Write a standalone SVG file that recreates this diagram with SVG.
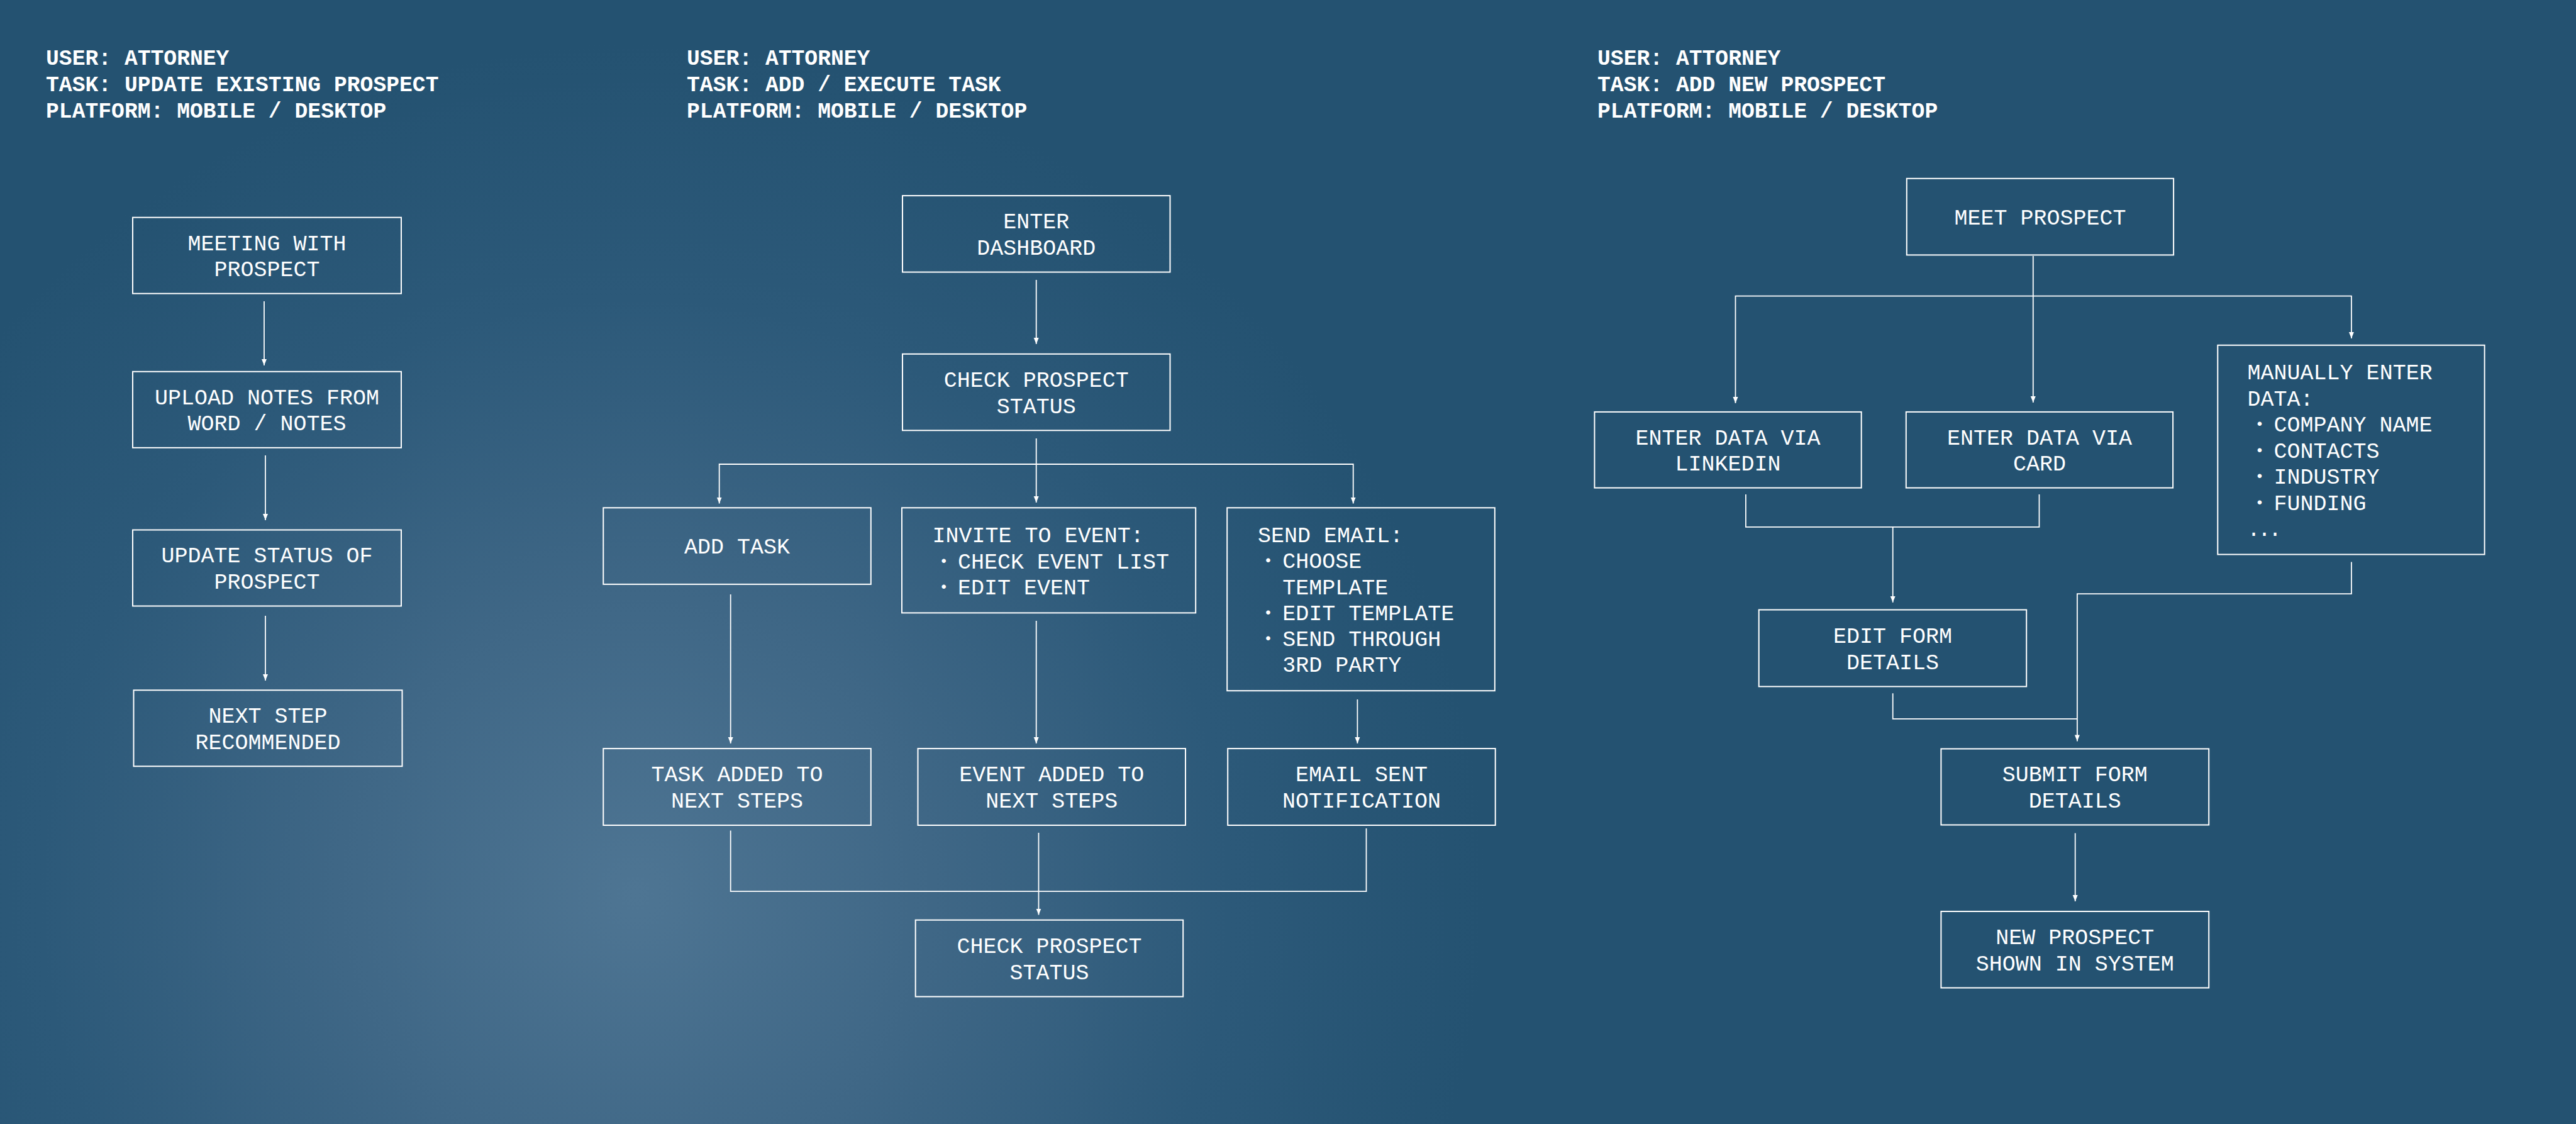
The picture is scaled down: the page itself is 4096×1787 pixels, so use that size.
<svg xmlns="http://www.w3.org/2000/svg" width="4096" height="1787" viewBox="0 0 4096 1787">
  <defs>
    <radialGradient id="glow" gradientUnits="userSpaceOnUse" cx="1010" cy="1420" r="1350">
      <stop offset="0" stop-color="#4e7593"/>
      <stop offset="0.35" stop-color="#3f6786"/>
      <stop offset="0.7" stop-color="#2c5979"/>
      <stop offset="1" stop-color="#245271"/>
    </radialGradient>
    <marker id="arrow" markerUnits="userSpaceOnUse" markerWidth="10" markerHeight="10" viewBox="0 0 10 10" refX="10" refY="5" orient="auto">
      <path d="M0,1 L10,5 L0,9 z" fill="#ffffff"/>
    </marker>
    <style>
      .hdr { font-family: "Liberation Mono", "DejaVu Sans Mono", monospace; font-weight: bold; font-size: 34.7px; fill: #ffffff; }
      .box { fill: none; stroke: #ffffff; stroke-width: 2; }
      .t { font-family: "Liberation Mono", "DejaVu Sans Mono", monospace; font-size: 35px; fill: #ffffff; }
      .b { font-family: "Liberation Mono", "DejaVu Sans Mono", monospace; font-size: 24px; fill: #ffffff; }
      .c { text-anchor: middle; }
      .ln { fill: none; stroke: #ffffff; stroke-width: 1.8; }
      .ar { fill: none; stroke: #ffffff; stroke-width: 1.8; marker-end: url(#arrow); }
    </style>
  </defs>

  <rect x="0" y="0" width="4096" height="1787" fill="url(#glow)"/>

  <g id="headers">
    <text class="hdr" x="73" y="103"><tspan x="73" y="103">USER: ATTORNEY</tspan><tspan x="73" y="145">TASK: UPDATE EXISTING PROSPECT</tspan><tspan x="73" y="186.5">PLATFORM: MOBILE / DESKTOP</tspan></text>
    <text class="hdr" x="1092" y="103"><tspan x="1092" y="103">USER: ATTORNEY</tspan><tspan x="1092" y="145">TASK: ADD / EXECUTE TASK</tspan><tspan x="1092" y="186.5">PLATFORM: MOBILE / DESKTOP</tspan></text>
    <text class="hdr" x="2540" y="103"><tspan x="2540" y="103">USER: ATTORNEY</tspan><tspan x="2540" y="145">TASK: ADD NEW PROSPECT</tspan><tspan x="2540" y="186.5">PLATFORM: MOBILE / DESKTOP</tspan></text>
  </g>

  <g id="connectors">
    <!-- column 1 -->
    <line class="ar" x1="420" y1="479" x2="420" y2="581"/>
    <line class="ar" x1="422" y1="724" x2="422" y2="827"/>
    <line class="ar" x1="422" y1="979" x2="422" y2="1082"/>
    <!-- column 2 -->
    <line class="ar" x1="1647.7" y1="445" x2="1647.7" y2="547"/>
    <line class="ar" x1="1647.7" y1="697" x2="1647.7" y2="799"/>
    <polyline class="ar" points="1647.7,738 1143.7,738 1143.7,800.5"/>
    <polyline class="ar" points="1647.7,738 2151.7,738 2151.7,800.5"/>
    <line class="ar" x1="1161.7" y1="945" x2="1161.7" y2="1182"/>
    <line class="ar" x1="1647.7" y1="987" x2="1647.7" y2="1182"/>
    <line class="ar" x1="2158.4" y1="1112" x2="2158.4" y2="1182"/>
    <polyline class="ln" points="1161.7,1320.6 1161.7,1417.1 2172.5,1417.1 2172.5,1317"/>
    <line class="ar" x1="1651.5" y1="1324" x2="1651.5" y2="1454.5"/>
    <!-- column 3 -->
    <line class="ar" x1="3232.8" y1="407" x2="3232.8" y2="640"/>
    <polyline class="ar" points="3232.8,470.6 2759.5,470.6 2759.5,641"/>
    <polyline class="ar" points="3232.8,470.6 3738.9,470.6 3738.9,538"/>
    <polyline class="ln" points="2775.9,786 2775.9,837.9 3242.5,837.9 3242.5,786"/>
    <line class="ar" x1="3009.7" y1="837.9" x2="3009.7" y2="957.8"/>
    <polyline class="ln" points="3009.7,1102.2 3009.7,1142.8 3302.9,1142.8"/>
    <polyline class="ar" points="3738.9,893.6 3738.9,944.2 3302.9,944.2 3302.9,1178.4"/>
    <line class="ar" x1="3299.7" y1="1324.6" x2="3299.7" y2="1433"/>
  </g>

  <!-- Column 1 nodes -->
  <g id="n-meeting">
    <rect class="box" x="211" y="345.7" width="427" height="121"/>
    <text class="t c" x="424.5" y="397.6"><tspan x="424.5" y="397.6">MEETING WITH</tspan><tspan x="424.5" y="439.2">PROSPECT</tspan></text>
  </g>
  <g id="n-upload">
    <rect class="box" x="211" y="590.8" width="427" height="121"/>
    <text class="t c" x="424.5" y="642.7"><tspan x="424.5" y="642.7">UPLOAD NOTES FROM</tspan><tspan x="424.5" y="684.3">WORD / NOTES</tspan></text>
  </g>
  <g id="n-update">
    <rect class="box" x="211" y="842.5" width="427" height="121"/>
    <text class="t c" x="424.5" y="894.4"><tspan x="424.5" y="894.4">UPDATE STATUS OF</tspan><tspan x="424.5" y="936">PROSPECT</tspan></text>
  </g>
  <g id="n-nextstep">
    <rect class="box" x="212.5" y="1097.3" width="427" height="121"/>
    <text class="t c" x="426" y="1149.2"><tspan x="426" y="1149.2">NEXT STEP</tspan><tspan x="426" y="1190.8">RECOMMENDED</tspan></text>
  </g>

  <!-- Column 2 nodes -->
  <g id="n-dashboard">
    <rect class="box" x="1435" y="311.1" width="425.5" height="121.5"/>
    <text class="t c" x="1647.8" y="363.2"><tspan x="1647.8" y="363.2">ENTER</tspan><tspan x="1647.8" y="404.8">DASHBOARD</tspan></text>
  </g>
  <g id="n-check1">
    <rect class="box" x="1435" y="562.8" width="425.5" height="121.5"/>
    <text class="t c" x="1647.8" y="614.9"><tspan x="1647.8" y="614.9">CHECK PROSPECT</tspan><tspan x="1647.8" y="656.5">STATUS</tspan></text>
  </g>
  <g id="n-addtask">
    <rect class="box" x="959.3" y="807.3" width="425.5" height="121.6"/>
    <text class="t c" x="1172" y="880">ADD TASK</text>
  </g>
  <g id="n-invite">
    <rect class="box" x="1434" y="807.3" width="467.2" height="167.1"/>
    <text class="t" x="1482.6" y="862">INVITE TO EVENT:</text>
    <text class="b" x="1493.6" y="899.6">•</text>
    <text class="t" x="1522.9" y="903.6">CHECK EVENT LIST</text>
    <text class="b" x="1493.6" y="940.8">•</text>
    <text class="t" x="1522.9" y="944.8">EDIT EVENT</text>
  </g>
  <g id="n-sendemail">
    <rect class="box" x="1951.2" y="807.3" width="425.6" height="290.9"/>
    <text class="t" x="2000" y="861.6">SEND EMAIL:</text>
    <text class="b" x="2009.3" y="899.3">•</text>
    <text class="t" x="2039.2" y="903.3">CHOOSE</text>
    <text class="t" x="2039.2" y="945.1">TEMPLATE</text>
    <text class="b" x="2009.3" y="981.9">•</text>
    <text class="t" x="2039.2" y="985.9">EDIT TEMPLATE</text>
    <text class="b" x="2009.3" y="1023.1">•</text>
    <text class="t" x="2039.2" y="1027.1">SEND THROUGH</text>
    <text class="t" x="2039.2" y="1067.9">3RD PARTY</text>
  </g>
  <g id="n-taskadded">
    <rect class="box" x="959.3" y="1190.1" width="425.5" height="121.9"/>
    <text class="t c" x="1172" y="1242.4"><tspan x="1172" y="1242.4">TASK ADDED TO</tspan><tspan x="1172" y="1284">NEXT STEPS</tspan></text>
  </g>
  <g id="n-eventadded">
    <rect class="box" x="1459.5" y="1190.1" width="425.5" height="121.9"/>
    <text class="t c" x="1672.3" y="1242.4"><tspan x="1672.3" y="1242.4">EVENT ADDED TO</tspan><tspan x="1672.3" y="1284">NEXT STEPS</tspan></text>
  </g>
  <g id="n-emailsent">
    <rect class="box" x="1952.2" y="1190.1" width="425.5" height="121.9"/>
    <text class="t c" x="2165" y="1242.4"><tspan x="2165" y="1242.4">EMAIL SENT</tspan><tspan x="2165" y="1284">NOTIFICATION</tspan></text>
  </g>
  <g id="n-check2">
    <rect class="box" x="1455.7" y="1462.7" width="425.5" height="121.8"/>
    <text class="t c" x="1668.5" y="1515"><tspan x="1668.5" y="1515">CHECK PROSPECT</tspan><tspan x="1668.5" y="1556.6">STATUS</tspan></text>
  </g>

  <!-- Column 3 nodes -->
  <g id="n-meet">
    <rect class="box" x="3031.8" y="283.8" width="424.3" height="121.6"/>
    <text class="t c" x="3244" y="356.6">MEET PROSPECT</text>
  </g>
  <g id="n-linkedin">
    <rect class="box" x="2535.4" y="654.9" width="424.3" height="120.7"/>
    <text class="t c" x="2747.6" y="706.7"><tspan x="2747.6" y="706.7">ENTER DATA VIA</tspan><tspan x="2747.6" y="748.3">LINKEDIN</tspan></text>
  </g>
  <g id="n-card">
    <rect class="box" x="3030.8" y="654.9" width="424.3" height="120.7"/>
    <text class="t c" x="3243" y="706.7"><tspan x="3243" y="706.7">ENTER DATA VIA</tspan><tspan x="3243" y="748.3">CARD</tspan></text>
  </g>
  <g id="n-manual">
    <rect class="box" x="3526.3" y="548.8" width="424.3" height="332.7"/>
    <text class="t" x="3573.6" y="603.4">MANUALLY ENTER</text>
    <text class="t" x="3573.6" y="645">DATA:</text>
    <text class="b" x="3585.8" y="682.4">•</text>
    <text class="t" x="3615.5" y="686.4">COMPANY NAME</text>
    <text class="b" x="3585.8" y="723.8">•</text>
    <text class="t" x="3615.5" y="727.8">CONTACTS</text>
    <text class="b" x="3585.8" y="765.2">•</text>
    <text class="t" x="3615.5" y="769.2">INDUSTRY</text>
    <text class="b" x="3585.8" y="806.6">•</text>
    <text class="t" x="3615.5" y="810.6">FUNDING</text>
    <text class="t" x="3573" y="851.7" letter-spacing="-4">...</text>
  </g>
  <g id="n-editform">
    <rect class="box" x="2796.7" y="969.5" width="425.5" height="122"/>
    <text class="t c" x="3009.5" y="1021.9"><tspan x="3009.5" y="1021.9">EDIT FORM</tspan><tspan x="3009.5" y="1063.5">DETAILS</tspan></text>
  </g>
  <g id="n-submit">
    <rect class="box" x="3086.4" y="1190.5" width="425.8" height="121"/>
    <text class="t c" x="3299.3" y="1242.4"><tspan x="3299.3" y="1242.4">SUBMIT FORM</tspan><tspan x="3299.3" y="1284">DETAILS</tspan></text>
  </g>
  <g id="n-newprospect">
    <rect class="box" x="3086.4" y="1449" width="425.8" height="121.5"/>
    <text class="t c" x="3299.3" y="1501.1"><tspan x="3299.3" y="1501.1">NEW PROSPECT</tspan><tspan x="3299.3" y="1542.7">SHOWN IN SYSTEM</tspan></text>
  </g>
</svg>
